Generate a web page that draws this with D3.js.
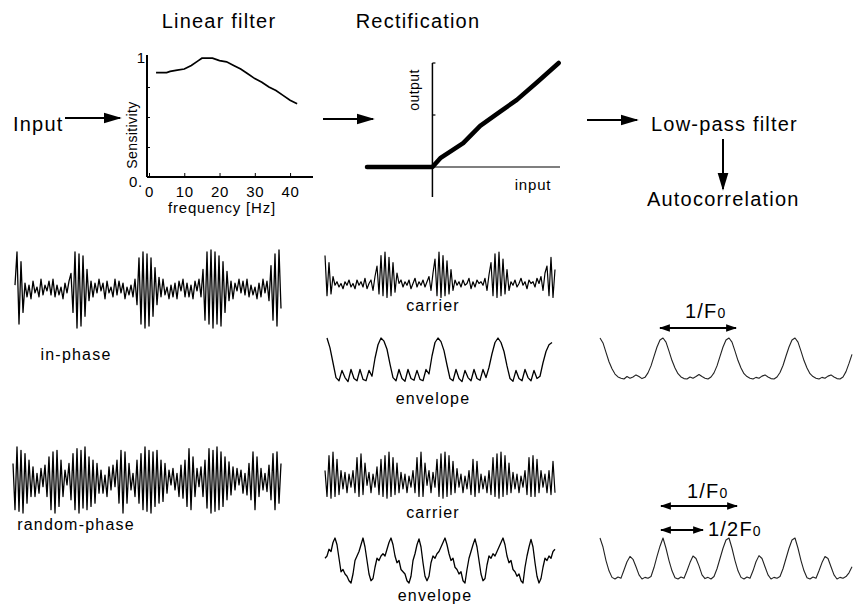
<!DOCTYPE html>
<html>
<head>
<meta charset="utf-8">
<script src="https://cdn.jsdelivr.net/npm/d3@7"></script>
<style>
  body { margin: 0; background: #fff; }
  svg { display: block; font-family: "Liberation Sans", Arial, sans-serif; }
  .big { font-size: 20px; letter-spacing: 1.2px; }
  .mid { font-size: 16px; letter-spacing: 1.2px; }
  .small { font-size: 15px; letter-spacing: 0.8px; }
  .axislab { font-size: 14px; letter-spacing: 0.4px; }
</style>
</head>
<body>
<svg id="fig" width="853" height="608"></svg>
<script>
// linear filter sensitivity curve
const filterFreq = [2, 4, 5, 6, 8, 10, 12, 14, 15, 18, 20, 22, 24, 26, 28, 30, 32, 34, 36, 38, 40, 42];
const filterSens = [0.87, 0.87, 0.87, 0.88, 0.89, 0.90, 0.93, 0.97, 0.99, 0.99, 0.97, 0.96, 0.93, 0.90, 0.86, 0.82, 0.79, 0.75, 0.72, 0.68, 0.64, 0.61];
const freqTicks = [0, 10, 20, 30, 40];

// rectification curve
const rectInput = [-1, 0, 0.12, 0.47, 0.73, 1.03, 1.29, 1.6, 1.93];
const rectOutput = [0, 0, 0.17, 0.46, 0.79, 1.06, 1.29, 1.63, 2.0];

// input waveforms
const inPhaseRaw = [
  0.1, 0.95, -0.9, 0.7, -0.6,
  0.15, -0.2, 0.1, -0.25, 0.2, -0.1, 0.05, -0.2, 0.25, -0.15, 0.1, -0.05, 0.2, -0.15, 0.25, -0.2, 0.1, -0.15, 0.05, -0.25, 0.15, -0.1, 0.2,
  0.4, -0.6, 0.95, -1.0, 0.9, -0.95, 0.85, -0.7, 0.5, -0.3, 0.2,
  -0.2, 0.15, -0.1, 0.25, -0.05, 0.15, -0.25, 0.2, -0.1, 0.05, -0.2, 0.25, -0.15, 0.2, -0.1, 0.15, -0.25, 0.05, -0.15, 0.1, -0.2, 0.25,
  -0.4, 0.8, -0.9, 0.95, -1.0, 0.9, -0.95, 0.8, -0.7, 0.55, -0.4, 0.3,
  -0.2, 0.25, -0.15, 0.05, -0.25, 0.1, -0.2, 0.15, -0.25, 0.2, -0.05, 0.25, -0.2, 0.15, -0.2, 0.1, -0.25, 0.2, -0.05, 0.25, -0.2,
  0.5, -0.8, 0.95, -0.9, 1.0, -1.0, 0.95, -0.9, 0.85, -0.95, 0.7, -0.6, 0.45, -0.3,
  0.2, -0.25, 0.15, -0.05, 0.25, -0.1, 0.2, -0.15, 0.25, -0.2, 0.1, -0.15, 0.05, -0.25, 0.15, -0.2, 0.25, -0.1, 0.2, -0.3,
  0.6, -0.8, 0.9, -0.95, 1.0, -0.5
];
const randomPhaseRaw = [
  0.5, -0.9, 1.0, -0.95, 0.9, -1.0, 0.8, -0.7, 0.6, -0.5,
  0.4, -0.5, 0.2, -0.4, 0.35, -0.2, 0.45, -0.5,
  0.7, -0.9, 0.85, -1.0, 0.9, -0.8, 0.6, -0.5,
  0.3, -0.15, 0.5, -0.6,
  0.8, -0.9, 0.95, -1.0, 0.9, -0.85, 1.0, -0.9, 0.7, -0.8, 0.6, -0.7, 0.5, -0.4,
  0.3, -0.4, 0.15, -0.5, 0.4, -0.3, 0.45, -0.2, 0.6, -0.7,
  0.9, -1.0, 0.85, -0.7, 0.5,
  -0.3, 0.2, -0.5, 0.6, -0.7,
  0.8, -0.9, 1.0, -0.95, 0.9, -1.0, 0.85, -0.8, 0.9, -0.7, 0.6, -0.65, 0.5, -0.4,
  0.3, -0.15, 0.35, -0.3, 0.2, -0.5, 0.45, -0.55, 0.6,
  -0.8, 0.95, -0.9, 0.7, -0.5,
  0.35, -0.2, 0.4, -0.5, 0.6,
  -0.85, 0.95, -1.0, 0.9, -0.95, 1.0, -0.9, 0.85, -0.8, 0.7, -0.6, 0.55, -0.45, 0.4,
  -0.3, 0.35, -0.15, 0.3, -0.4, 0.2, -0.45, 0.5, -0.6,
  0.85, -0.9, 0.7, -0.5,
  0.35, -0.3, 0.2, -0.35, 0.45,
  -0.6, 0.8, -0.9, 0.85, -0.7, 0.5
];

// rectified carriers
const inPhaseCarrier = [
  0.9, -0.25, 0.7, -0.2, 0.3,
  0.05, 0.15, 0, 0.1, -0.05, 0.15, 0.05, 0.2, 0, 0.1, -0.05, 0.2, 0.05, 0.15, 0, 0.25, -0.05, 0.1, 0.2, -0.1, 0.3,
  0.6, -0.2, 0.9, -0.25, 1.0, -0.3, 0.85, -0.25, 0.7, -0.15, 0.4,
  0.1, 0.2, 0, 0.15, 0.05, 0.2, -0.05, 0.1, 0.25, 0, 0.15, 0.05, 0.2, 0, 0.15, 0.3, -0.1, 0.4,
  0.8, -0.25, 1.0, -0.3, 0.9, -0.25, 0.75, -0.2, 0.5, -0.1,
  0.2, 0.05, 0.15, 0, 0.2, 0.05, 0.1, 0.25, -0.05, 0.15, 0, 0.2, 0.1, 0.15, 0.05, 0.25, -0.1, 0.35,
  0.7, -0.25, 0.95, -0.3, 1.0, -0.25, 0.8, -0.2, 0.5, -0.1,
  0.15, 0.05, 0.2, 0, 0.1, 0.25, 0.05, 0.15, -0.05, 0.2, 0.1, 0.15, 0, 0.25, 0.1, 0.3, -0.1, 0.4,
  0.6, -0.25, 0.85, -0.3, 0.5
];
const randomPhaseCarrier = [
  0.5, -0.2, 0.9, -0.25, 1.0, -0.2, 0.8, -0.15,
  0.5, 0, 0.45, -0.1, 0.4, 0.05, 0.5, -0.1,
  0.85, -0.2, 0.95, -0.15, 0.7,
  0.1, 0.45, -0.1, 0.4, 0.05, 0.6,
  -0.15, 0.8, -0.2, 0.9, -0.25, 1.0, -0.2, 0.85, -0.15, 0.7, -0.1,
  0.45, 0, 0.4, -0.1, 0.35, 0.05, 0.5, -0.1,
  0.85, -0.2, 1.0, -0.2, 0.7,
  0.1, 0.5, -0.1, 0.45, 0.05,
  0.8, -0.2, 0.95, -0.25, 1.0, -0.2, 0.9, -0.15, 0.75, -0.1, 0.55,
  0.05, 0.4, -0.1, 0.35, 0, 0.5,
  -0.15, 0.8, -0.2, 0.75, -0.1,
  0.4, 0, 0.35, -0.1, 0.5,
  -0.15, 0.85, -0.2, 0.95, -0.25, 1.0, -0.2, 0.9, -0.15, 0.7, -0.1,
  0.45, 0, 0.4, -0.1, 0.35, 0.05, 0.5,
  -0.15, 0.85, -0.2, 0.9, -0.2, 0.8, -0.1, 0.5,
  0.05, 0.4, -0.1, 0.5, -0.15, 0.75, -0.1
];

// envelopes
const inPhaseEnvelope = [
  1.0, 0.78, 0.45, 0.12, 0.05, 0.28, 0.12, 0.03, 0.3, 0.1, 0.05, 0.3, 0.08, 0.05, 0.28, 0.15, 0.55, 0.85, 1.0,
  0.93, 0.75, 0.42, 0.12, 0.05, 0.3, 0.1, 0.04, 0.3, 0.1, 0.06, 0.28, 0.08, 0.05, 0.3, 0.2, 0.6, 0.9, 1.0,
  0.92, 0.72, 0.4, 0.1, 0.05, 0.3, 0.1, 0.03, 0.28, 0.12, 0.05, 0.3, 0.1, 0.06, 0.3, 0.12, 0.35, 0.65, 0.9, 1.0,
  0.9, 0.7, 0.38, 0.1, 0.04, 0.28, 0.1, 0.05, 0.3, 0.12, 0.05, 0.28, 0.1, 0.15, 0.45, 0.7, 0.85, 0.9
];
const randomPhaseEnvelope = [
  0.55, 0.6, 0.75, 0.7, 0.9, 1.0,
  0.85, 0.55, 0.25, 0.3, 0.2, 0.15, 0.05, 0.0, 0.2, 0.5, 0.6, 0.7, 0.85, 1.0,
  0.8, 0.5, 0.2, 0.05, 0.1, 0.35, 0.55, 0.5, 0.6, 0.65, 0.6, 0.75, 0.9, 1.0,
  0.85, 0.6, 0.45, 0.5, 0.3, 0.25, 0.2, 0.05, 0.0, 0.15, 0.5, 0.65, 0.85, 0.98,
  0.8, 0.45, 0.15, 0.05, 0.15, 0.45, 0.6, 0.55, 0.65, 0.7, 0.8, 0.9, 1.0,
  0.85, 0.65, 0.5, 0.55, 0.35, 0.3, 0.2, 0.25, 0.05, 0.0, 0.3, 0.55, 0.7, 0.85, 0.98,
  0.8, 0.5, 0.2, 0.05, 0.1, 0.4, 0.6, 0.55, 0.65, 0.6, 0.7, 0.8, 0.9, 1.0,
  0.85, 0.6, 0.45, 0.5, 0.3, 0.25, 0.15, 0.2, 0.05, 0.0, 0.35, 0.6, 0.8, 0.97,
  0.8, 0.45, 0.15, 0.0, 0.1, 0.35, 0.55, 0.5, 0.6, 0.55, 0.7, 0.75
];

// autocorrelations
const inPhaseAutocorr = [
  1.0, 0.88, 0.65, 0.42, 0.25, 0.12, 0.05, 0.02, 0.0, 0.06, 0.02, 0.05, 0.1, 0.06, 0.01, 0.04, 0.15, 0.32, 0.55, 0.78, 0.95, 1.0,
  0.9, 0.68, 0.45, 0.27, 0.13, 0.05, 0.01, 0.0, 0.05, 0.02, 0.06, 0.11, 0.06, 0.02, 0.0, 0.05, 0.15, 0.32, 0.55, 0.78, 0.95, 1.0,
  0.9, 0.68, 0.45, 0.27, 0.13, 0.06, 0.02, 0.0, 0.04, 0.02, 0.07, 0.1, 0.05, 0.01, 0.0, 0.05, 0.16, 0.33, 0.56, 0.78, 0.95, 1.0,
  0.9, 0.68, 0.45, 0.27, 0.13, 0.06, 0.02, 0.0, 0.04, 0.02, 0.07, 0.1, 0.05, 0.01, 0.0, 0.05, 0.18, 0.38, 0.6
];
const randomPhaseAutocorr = [
  1.0, 0.78, 0.45, 0.2, 0.04, 0.0, 0.05, 0.02, 0.22, 0.42, 0.55, 0.48, 0.3, 0.1, 0.0, 0.04, 0.02, 0.06, 0.28, 0.55, 0.8, 1.0,
  0.75, 0.45, 0.2, 0.03, 0.0, 0.05, 0.02, 0.2, 0.4, 0.56, 0.5, 0.32, 0.1, 0.01, 0.04, 0.0, 0.06, 0.25, 0.5, 0.75, 0.95, 1.0,
  0.75, 0.45, 0.2, 0.04, 0.0, 0.05, 0.02, 0.2, 0.42, 0.57, 0.5, 0.3, 0.1, 0.0, 0.04, 0.02, 0.06, 0.25, 0.5, 0.75, 0.95, 1.0,
  0.75, 0.45, 0.2, 0.03, 0.0, 0.05, 0.02, 0.2, 0.4, 0.55, 0.5, 0.3, 0.1, 0.0, 0.04, 0.02, 0.06, 0.15, 0.3
];

const svg = d3.select("#fig");
svg.append("rect").attr("width", 853).attr("height", 608).attr("fill", "#fff");

// arrow heads
const defs = svg.append("defs");
defs.append("marker")
  .attr("id", "head")
  .attr("viewBox", "0 0 10 10")
  .attr("refX", 9).attr("refY", 5)
  .attr("markerWidth", 11).attr("markerHeight", 11)
  .attr("markerUnits", "userSpaceOnUse")
  .attr("orient", "auto-start-reverse")
  .append("path").attr("d", "M0,1.5 L10,5 L0,8.5 Z").attr("fill", "#000");
defs.append("marker")
  .attr("id", "bighead")
  .attr("viewBox", "0 0 10 10")
  .attr("refX", 9).attr("refY", 5)
  .attr("markerWidth", 18).attr("markerHeight", 18)
  .attr("markerUnits", "userSpaceOnUse")
  .attr("orient", "auto-start-reverse")
  .append("path").attr("d", "M0,2 L10,5 L0,8 Z").attr("fill", "#000");

const arrow = (x1, y1, x2, y2, marker, both) => {
  const l = svg.append("line")
    .attr("x1", x1).attr("y1", y1).attr("x2", x2).attr("y2", y2)
    .attr("stroke", "#000").attr("stroke-width", 2)
    .attr("marker-end", `url(#${marker})`);
  if (both) l.attr("marker-start", `url(#${marker})`);
};

const label = (x, y, text, cls, anchor = "middle") =>
  svg.append("text").attr("x", x).attr("y", y).attr("class", cls)
    .attr("text-anchor", anchor).attr("fill", "#000").text(text);

// top row texts and arrows
label(219, 28, "Linear filter", "big");
label(418, 28, "Rectification", "big");
label(13, 131, "Input", "big", "start");
arrow(65, 118, 120, 118, "bighead");
arrow(323, 119, 373, 119, "bighead");
arrow(587, 120, 637, 120, "bighead");
label(651, 131, "Low-pass  filter", "big", "start");
arrow(723, 139, 723, 189, "bighead");
label(647, 206, "Autocorrelation", "big", "start");

// ---- linear filter plot
const fx = d3.scaleLinear().domain([0, 46.5]).range([149, 313]);
const fy = d3.scaleLinear().domain([0, 1]).range([177, 57]);
const gf = svg.append("g");
gf.append("g")
  .attr("transform", "translate(0,177)")
  .call(d3.axisBottom(fx).tickValues(freqTicks).tickSizeInner(-4).tickSizeOuter(0).tickPadding(9))
  .call((g) => g.select(".domain").attr("d", "M147,0H313").attr("stroke-width", 2))
  .call((g) => g.selectAll("text").attr("class", "small").attr("font-family", null).attr("font-size", null).attr("fill", "#000"));
gf.append("g")
  .attr("transform", "translate(147,0)")
  .call(d3.axisLeft(fy).tickValues([0.25, 0.5, 0.75]).tickSizeInner(-3).tickSizeOuter(0).tickFormat(""))
  .call((g) => g.select(".domain").attr("d", "M0,55V177").attr("stroke-width", 2));
gf.append("path")
  .datum(filterFreq.map((f, i) => [f, filterSens[i]]))
  .attr("fill", "none").attr("stroke", "#000").attr("stroke-width", 1.7)
  .attr("d", d3.line().x((d) => fx(d[0])).y((d) => fy(d[1])));
label(143, 187, "0.", "small", "end");
label(146, 63, "1", "small", "end");
label(222, 213, "frequency [Hz]", "small");
svg.append("text").attr("class", "axislab").attr("text-anchor", "middle")
  .attr("transform", "translate(137,135) rotate(-90)").text("Sensitivity");

// ---- rectification plot
const rx = d3.scaleLinear().domain([-1, 1.95]).range([367, 560]);
const ry = d3.scaleLinear().domain([0, 2]).range([167, 63]);
svg.append("line").attr("x1", rx(0)).attr("x2", rx(0)).attr("y1", ry(2)).attr("y2", 197)
  .attr("stroke", "#000").attr("stroke-width", 1.5);
svg.append("line").attr("x1", rx(-1)).attr("x2", rx(1.95)).attr("y1", ry(0)).attr("y2", ry(0))
  .attr("stroke", "#000").attr("stroke-width", 1.2);
[1, 2].forEach((v) => svg.append("line").attr("x1", rx(0)).attr("x2", rx(0) + 3)
  .attr("y1", ry(v)).attr("y2", ry(v)).attr("stroke", "#000").attr("stroke-width", 1.2));
svg.append("path")
  .datum(rectInput.map((v, i) => [v, rectOutput[i]]))
  .attr("fill", "none").attr("stroke", "#000").attr("stroke-width", 4.5)
  .attr("stroke-linejoin", "round").attr("stroke-linecap", "round")
  .attr("d", d3.line().x((d) => rx(d[0])).y((d) => ry(d[1])));
svg.append("text").attr("class", "axislab").attr("text-anchor", "middle")
  .attr("transform", "translate(419,90) rotate(-90)").text("output");
label(533, 190, "input", "small");

// ---- waveform traces
const trace = (data, x0, x1, dom, y0, y1, width, color) => {
  const x = d3.scaleLinear().domain([0, data.length - 1]).range([x0, x1]);
  const y = d3.scaleLinear().domain(dom).range([y0, y1]);
  svg.append("path")
    .datum(data)
    .attr("fill", "none").attr("stroke", color).attr("stroke-width", width)
    .attr("stroke-linejoin", "round")
    .attr("d", d3.line().x((d, i) => x(i)).y((d) => y(d)));
};

trace(inPhaseRaw, 15, 281, [-1, 1], 328, 250, 1.3, "#000");
trace(randomPhaseRaw, 13, 281, [-1, 1], 513, 447, 1.3, "#000");
trace(inPhaseCarrier, 325, 555, [0, 1], 287, 252, 1.2, "#000");
trace(randomPhaseCarrier, 325, 555, [0, 1], 489, 452, 1.2, "#000");
trace(inPhaseEnvelope, 327, 552, [0, 1], 383, 338, 1.3, "#000");
trace(randomPhaseEnvelope, 325, 555, [0, 1], 583, 538, 1.3, "#000");
trace(inPhaseAutocorr, 600, 852, [0, 1], 379, 338, 1.1, "#222");
trace(randomPhaseAutocorr, 600, 852, [0, 1], 579, 538, 1.1, "#222");

label(76, 360, "in-phase", "mid");
label(76, 530, "random-phase", "mid");
label(433, 311, "carrier", "mid");
label(433, 404, "envelope", "mid");
label(433, 518, "carrier", "mid");
label(435, 601, "envelope", "mid");

// period arrows
const fo = (x, y, pre, post) => {
  const t = svg.append("text").attr("x", x).attr("y", y).attr("class", "big").attr("text-anchor", "start");
  t.append("tspan").text(pre);
  t.append("tspan").attr("font-size", "14px").text(post);
};
arrow(660, 328, 736, 328, "head", true);
fo(685, 318, "1/F", "0");
arrow(661, 506, 737, 506, "head", true);
fo(687, 498, "1/F", "0");
arrow(661, 530, 703, 530, "head", true);
fo(708, 536, "1/2F", "0");
</script>
</body>
</html>
